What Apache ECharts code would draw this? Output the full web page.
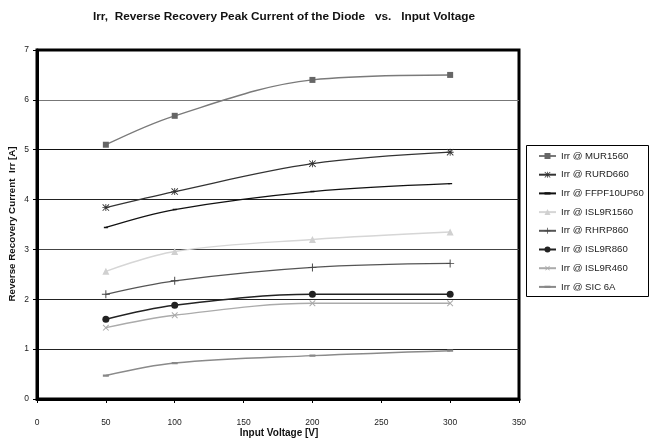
<!DOCTYPE html>
<html>
<head>
<meta charset="utf-8">
<script src="https://cdn.jsdelivr.net/npm/echarts@6/dist/echarts.min.js"></script>
<style>
  html, body { margin: 0; padding: 0; background: #fff; }
  #chart { width: 650px; height: 439px; }
</style>
</head>
<body>
<div id="chart"></div>
<script>
// Input voltage sweep points [V]
const voltages = [50, 100, 200, 300];

// Reverse recovery peak current Irr [A] per diode
const seriesNames = [
  'Irr @ MUR1560',
  'Irr @ RURD660',
  'Irr @ FFPF10UP60',
  'Irr @ ISL9R1560',
  'Irr @ RHRP860',
  'Irr @ ISL9R860',
  'Irr @ ISL9R460',
  'Irr @ SIC 6A'
];
const irrMUR1560    = [5.10, 5.68, 6.40, 6.50];
const irrRURD660    = [3.84, 4.16, 4.72, 4.95];
const irrFFPF10UP60 = [3.44, 3.80, 4.16, 4.32];
const irrISL9R1560  = [2.56, 2.96, 3.20, 3.35];
const irrRHRP860    = [2.10, 2.37, 2.64, 2.72];
const irrISL9R860   = [1.60, 1.88, 2.10, 2.10];
const irrISL9R460   = [1.43, 1.68, 1.92, 1.92];
const irrSIC6A      = [0.47, 0.72, 0.87, 0.97];

const xTicks = [0, 50, 100, 150, 200, 250, 300, 350];
const yTicks = [0, 1, 2, 3, 4, 5, 6, 7];

const FONT = '"Liberation Sans", Arial, Helvetica, sans-serif';

// marker shapes drawn as filled outlines
const PLUS = 'path://M4.4,0h1.2v4.4h4.4v1.2h-4.4v4.4h-1.2v-4.4h-4.4v-1.2h4.4z';
const STAR = 'path://M0,0.85L0.85,0L10,9.15L9.15,10Z M9.15,0L10,0.85L0.85,10L0,9.15Z M4.4,0h1.2v10h-1.2Z M0,4.4h10v1.2h-10Z';
// short horizontal dash inside a square bounding box
const DASH = 'path://M0,0h0.01v0.01h-0.01z M0,3.2h10v3.6h-10z M9.99,9.99h0.01v0.01h-0.01z';

const styles = [
  { line: '#7a7a7a', mark: '#666666', symbol: 'rect',     size: 6, width: 1.4 },
  { line: '#333333', mark: '#333333', symbol: STAR,       size: 7, width: 1.3 },
  { line: '#111111', mark: '#111111', symbol: DASH,       size: 4, width: 1.3 },
  { line: '#d6d6d6', mark: '#d0d0d0', symbol: 'triangle', size: 7, width: 1.5 },
  { line: '#555555', mark: '#444444', symbol: PLUS,       size: 8, width: 1.3 },
  { line: '#222222', mark: '#222222', symbol: 'circle',   size: 7, width: 1.5 },
  { line: '#ababab', mark: '#aaaaaa', symbol: PLUS,       size: 8, width: 1.3, rotate: 45 },
  { line: '#8a8a8a', mark: '#888888', symbol: DASH,       size: 6, width: 1.5 }
];

const values = [irrMUR1560, irrRURD660, irrFFPF10UP60, irrISL9R1560,
                irrRHRP860, irrISL9R860, irrISL9R460, irrSIC6A];

const series = seriesNames.map((name, i) => {
  const s = styles[i];
  return {
    name: name,
    type: 'line',
    smooth: 0.35,
    data: voltages.map((v, k) => [v, values[i][k]]),
    symbol: s.symbol,
    symbolSize: s.size,
    symbolRotate: s.rotate || 0,
    showSymbol: true,
    lineStyle: { color: s.line, width: s.width },
    itemStyle: { color: s.mark, borderWidth: 0 },
    emphasis: { disabled: true },
    z: 3
  };
});

const chart = echarts.init(document.getElementById('chart'), null, { renderer: 'canvas' });

chart.setOption({
  animation: false,
  backgroundColor: '#ffffff',
  grid: {
    left: 37, right: 131, top: 50, bottom: 40,
    show: true, borderColor: '#000', borderWidth: 3, backgroundColor: 'transparent'
  },
  xAxis: {
    type: 'value',
    min: xTicks[0], max: xTicks[xTicks.length - 1], interval: 50,
    axisLine: { show: true, lineStyle: { color: '#000', width: 3 } },
    axisTick: { show: true, inside: false, length: 4, lineStyle: { color: '#000', width: 1 } },
    axisLabel: { color: '#222', fontSize: 8.5, fontFamily: FONT, margin: 19 },
    splitLine: { show: false }
  },
  yAxis: {
    type: 'value',
    min: yTicks[0], max: yTicks[yTicks.length - 1], interval: 1,
    axisLine: { show: true, lineStyle: { color: '#000', width: 3 } },
    axisTick: { show: true, inside: false, length: 4, lineStyle: { color: '#000', width: 1 } },
    axisLabel: { color: '#222', fontSize: 8.5, fontFamily: FONT, margin: 8 },
    splitLine: {
      show: true,
      lineStyle: {
        color: ['#000', '#222', '#222', '#444', '#222', '#111', '#777', '#000'],
        width: 1
      }
    }
  },
  legend: {
    orient: 'vertical',
    left: 538, top: 151,
    padding: 0,
    itemWidth: 17, itemHeight: 7.5, itemGap: 8.7,
    textStyle: { color: '#222', fontSize: 9.6, fontFamily: FONT },
    data: seriesNames
  },
  graphic: [
    {
      type: 'rect', silent: true,
      shape: { x: 526.5, y: 145.5, width: 122, height: 151 },
      style: { fill: null, stroke: '#000', lineWidth: 1 }
    },
    {
      type: 'text', silent: true, x: 284, y: 17,
      style: {
        text: 'Irr,  Reverse Recovery Peak Current of the Diode   vs.   Input Voltage',
        fontSize: 11.8, fontWeight: 'bold', fontFamily: FONT, fill: '#111',
        align: 'center', verticalAlign: 'middle'
      }
    },
    {
      type: 'text', silent: true, x: 279, y: 433,
      style: {
        text: 'Input Voltage [V]',
        fontSize: 10, fontWeight: 'bold', fontFamily: FONT, fill: '#111',
        align: 'center', verticalAlign: 'middle'
      }
    },
    {
      type: 'text', silent: true, x: 12, y: 224, rotation: Math.PI / 2,
      style: {
        text: 'Reverse Recovery Current  Irr [A]',
        fontSize: 9.8, fontWeight: 'bold', fontFamily: FONT, fill: '#111',
        align: 'center', verticalAlign: 'middle'
      }
    }
  ],
  series: series
});
</script>
</body>
</html>
